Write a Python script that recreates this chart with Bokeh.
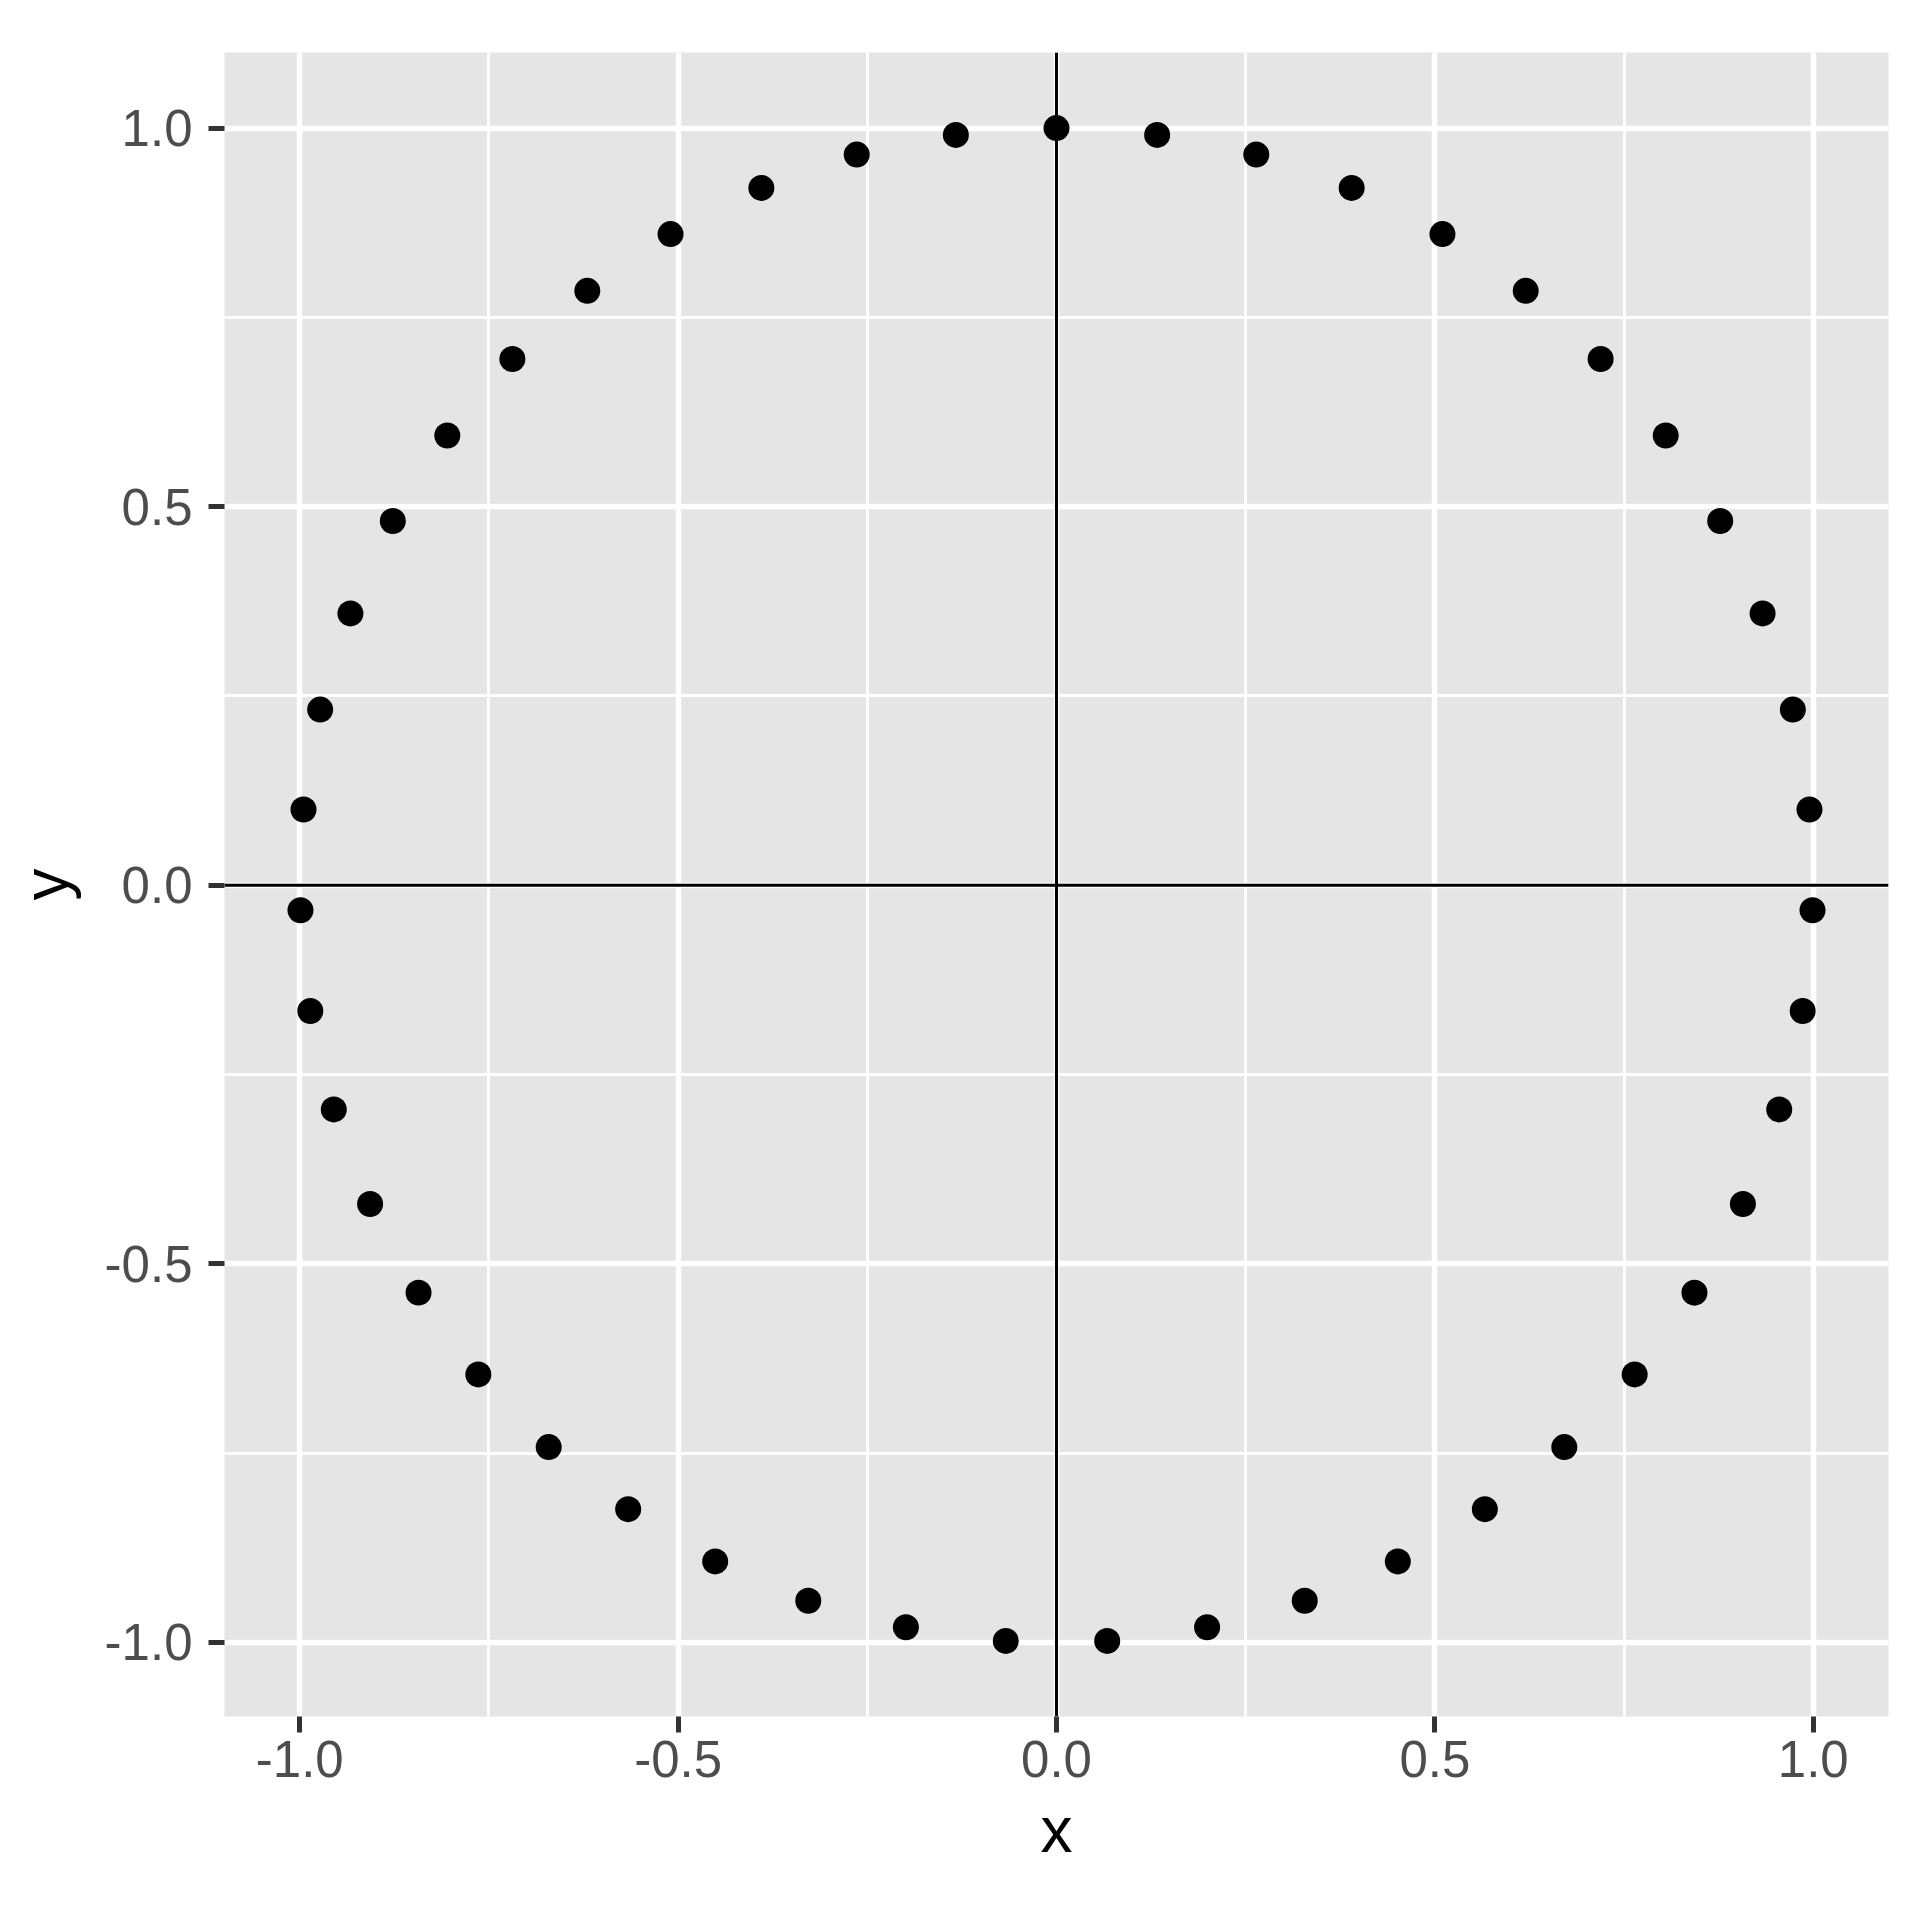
from bokeh.plotting import figure
from bokeh.models import FixedTicker, Span, Range1d
from bokeh.embed import file_html
from bokeh.resources import INLINE

# Points (47 points around the unit circle)
x_vals = [0.000, -0.133, -0.264, -0.390, -0.510, -0.620, -0.719, -0.805, -0.877, -0.933,
          -0.973, -0.995, -0.999, -0.986, -0.955, -0.907, -0.843, -0.764, -0.671, -0.566,
          -0.451, -0.328, -0.199, -0.067, 0.067, 0.199, 0.328, 0.451, 0.566, 0.671,
          0.764, 0.843, 0.907, 0.955, 0.986, 0.999, 0.995, 0.973, 0.933, 0.877,
          0.805, 0.719, 0.620, 0.510, 0.390, 0.264, 0.133]
y_vals = [1.000, 0.991, 0.965, 0.921, 0.860, 0.785, 0.695, 0.594, 0.481, 0.359,
          0.232, 0.100, -0.033, -0.166, -0.296, -0.421, -0.538, -0.646, -0.742, -0.824,
          -0.893, -0.945, -0.980, -0.998, -0.998, -0.980, -0.945, -0.893, -0.824, -0.742,
          -0.646, -0.538, -0.421, -0.296, -0.166, -0.033, 0.100, 0.232, 0.359, 0.481,
          0.594, 0.695, 0.785, 0.860, 0.921, 0.965, 0.991]
major_ticks = [-1.0, -0.5, 0.0, 0.5, 1.0]
minor_ticks = [-0.75, -0.25, 0.25, 0.75]
tick_labels = {-1.0: "-1.0", -0.5: "-0.5", 0.0: "0.0", 0.5: "0.5", 1.0: "1.0"}
ref_x = 0.0
ref_y = 0.0

FONT = "Liberation Sans"

p = figure(frame_width=1664, frame_height=1664,
           x_range=Range1d(-1.0994, 1.0994), y_range=Range1d(-1.0978, 1.0998),
           output_backend="svg", toolbar_location=None,
           min_border_left=224, min_border_top=52, min_border_right=24, min_border_bottom=190)

p.background_fill_color = "#E5E5E5"
p.border_fill_color = "white"
p.outline_line_color = None

for ax, lab in ((p.xaxis, "x"), (p.yaxis, "y")):
    ax.ticker = FixedTicker(ticks=major_ticks, minor_ticks=minor_ticks)
    ax.major_label_overrides = tick_labels
    ax.axis_line_color = None
    ax.major_tick_line_color = "#333333"
    ax.major_tick_line_width = 5
    ax.major_tick_out = 16
    ax.major_tick_in = 0
    ax.minor_tick_line_color = None
    ax.major_label_text_font = FONT
    ax.major_label_text_font_size = "51px"
    ax.major_label_text_color = "#4D4D4D"
    ax.axis_label = lab
    ax.axis_label_text_font = FONT
    ax.axis_label_text_font_size = "64px"
    ax.axis_label_text_font_style = "normal"
    ax.axis_label_text_color = "black"

p.xaxis.major_label_standoff = 8
p.yaxis.major_label_standoff = 16
p.xaxis.axis_label_standoff = 14
p.yaxis.axis_label_standoff = 20

for g in (p.xgrid, p.ygrid):
    g.grid_line_color = "white"
    g.grid_line_width = 5.5
    g.minor_grid_line_color = "white"
    g.minor_grid_line_width = 2.8

p.add_layout(Span(location=ref_y, dimension="width", line_color="black", line_width=3))
p.add_layout(Span(location=ref_x, dimension="height", line_color="black", line_width=3))

p.scatter(x_vals, y_vals, size=26, fill_color="black", line_color=None)

open("out.html", "w").write(file_html(p, INLINE))
